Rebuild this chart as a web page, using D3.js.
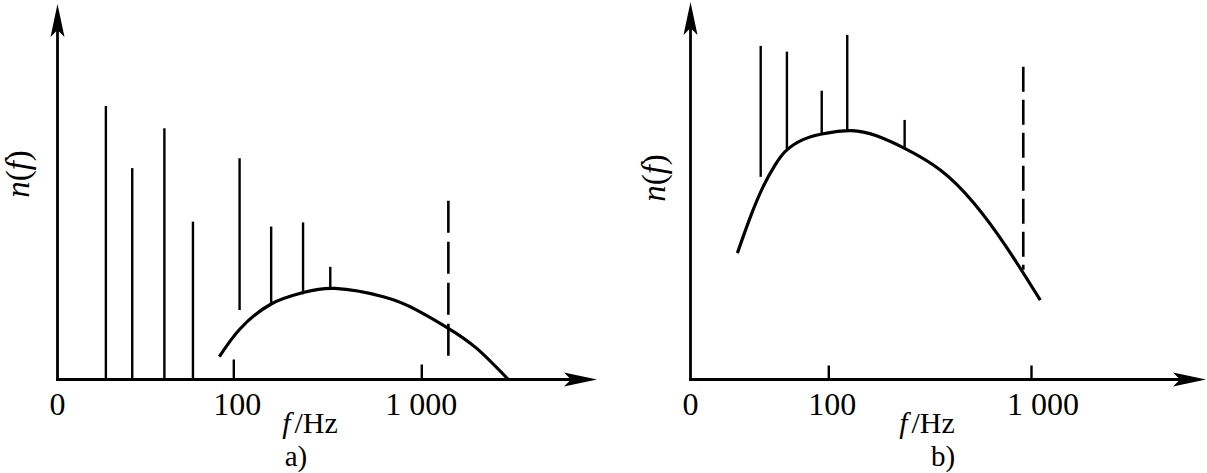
<!DOCTYPE html>
<html>
<head>
<meta charset="utf-8">
<script src="https://cdn.jsdelivr.net/npm/d3@7"></script>
<style>
  html, body { margin: 0; padding: 0; background: #fff; }
  svg { display: block; }
  text { font-family: "Liberation Serif", "Times New Roman", serif; fill: #000; }
</style>
</head>
<body>
<svg id="chart" width="1207" height="473"></svg>
<script>
// ---------- data ----------
// Panel a) : spectral lines (frequency in Hz, top value, base value)
const aLineFreq = [21, 29, 43, 61, 108, 159, 235, 328];
const aLineTop  = [72.1, 55.7, 66.2, 41.6, 58.3, 40.3, 41.4, 29.7];
const aLineBase = [0, 0, 0, 0, 18.3, 19.9, 22.9, 24.0];
const aDashFreq = [1393];
const aDashTop  = [47.1];
const aDashBase = [4.3];
// Panel a) : continuous spectrum curve
const aCurveFreq = [84.3, 108.5, 159, 235, 347, 628, 946, 1393, 1972, 2904];
const aCurveVal  = [6.0, 13.3, 19.9, 22.9, 24.0, 21.8, 18.3, 13.5, 8.2, 0];

// Panel b)
const bLineFreq = [46.4, 62.5, 92.8, 124, 238];
const bLineTop  = [87.9, 86.4, 76.1, 90.8, 68.4];
const bLineBase = [53.4, 60.5, 64.7, 65.6, 60.9];
const bDashFreq = [916];
const bDashTop  = [82.4];
const bDashBase = [28.9];
const bCurveFreq = [35.6, 41.1, 47.6, 54.6, 62.5, 75.0, 92.8, 130.5, 173, 238, 357, 522, 761, 1111];
const bCurveVal  = [33.3, 42.6, 50.7, 56.5, 60.5, 63.2, 64.7, 65.6, 64.2, 60.9, 55.2, 46.5, 34.7, 20.9];

// Axis ticks and labels
const tickValues = [100, 1000];
const tickLabels = ["100", "1 000"];
const originLabel = "0";
const panelNames = ["a)", "b)"];

// ---------- layout ----------
const svg = d3.select("#chart");
const axisY = 379.5;
const FS = 32;
const y = d3.scaleLinear().domain([0, 100]).range([axisY, 0]);

const panels = [
  {
    name: panelNames[0],
    x: d3.scaleLog().domain([100, 1000]).range([233.3, 421.3]),
    ox: 57.5, yTip: 4, xTip: 597,
    lineFreq: aLineFreq, lineTop: aLineTop, lineBase: aLineBase,
    dashFreq: aDashFreq, dashTop: aDashTop, dashBase: aDashBase, dash: "32,9",
    curveFreq: aCurveFreq, curveVal: aCurveVal,
    tickLen: [20, 15], labelDx: [4, 0],
    fhzX: 310, nameX: 296, ylabX: 17, ylabY: 174
  },
  {
    name: panelNames[1],
    x: d3.scaleLog().domain([100, 1000]).range([828.3, 1031]),
    ox: 690.5, yTip: 2, xTip: 1206,
    lineFreq: bLineFreq, lineTop: bLineTop, lineBase: bLineBase,
    dashFreq: bDashFreq, dashTop: bDashTop, dashBase: bDashBase, dash: "25,8",
    curveFreq: bCurveFreq, curveVal: bCurveVal,
    tickLen: [14, 14], labelDx: [4, 12],
    fhzX: 927, nameX: 943, ylabX: 653, ylabY: 178
  }
];

panels.forEach(p => {
  const g = svg.append("g");

  // axes lines
  g.append("line").attr("x1", p.ox).attr("x2", p.ox)
    .attr("y1", axisY + 1.4).attr("y2", p.yTip + 20)
    .attr("stroke", "#000").attr("stroke-width", 2.8);
  g.append("line").attr("x1", p.ox - 1.4).attr("x2", p.xTip - 20)
    .attr("y1", axisY).attr("y2", axisY)
    .attr("stroke", "#000").attr("stroke-width", 2.8);

  // arrowheads
  const L = 33, W = 7, N = 7;
  g.append("path")
    .attr("d", `M${p.ox},${p.yTip} L${p.ox - W},${p.yTip + L} L${p.ox},${p.yTip + L - N} L${p.ox + W},${p.yTip + L} Z`)
    .attr("fill", "#000");
  g.append("path")
    .attr("d", `M${p.xTip},${axisY} L${p.xTip - L},${axisY - W} L${p.xTip - L + N},${axisY} L${p.xTip - L},${axisY + W} Z`)
    .attr("fill", "#000");

  // ticks via d3 axis (ticks pointing upwards, labels drawn separately)
  const ax = d3.axisBottom(p.x).tickValues(tickValues).tickSizeOuter(0).tickFormat("");
  const axG = g.append("g").attr("transform", `translate(0,${axisY})`).call(ax);
  axG.select(".domain").remove();
  axG.selectAll(".tick line")
    .attr("y2", (d, i) => -p.tickLen[i])
    .attr("stroke", "#000").attr("stroke-width", 2.4);

  // tick labels
  g.selectAll("text.tl").data(tickValues).join("text")
    .attr("class", "tl")
    .attr("x", (d, i) => p.x(d) + p.labelDx[i])
    .attr("y", 415)
    .attr("text-anchor", "middle")
    .attr("font-size", FS)
    .text((d, i) => tickLabels[i]);
  g.append("text").attr("x", p.ox).attr("y", 415)
    .attr("text-anchor", "middle").attr("font-size", FS).text(originLabel);

  // axis title f/Hz
  const t = g.append("text").attr("x", p.fhzX).attr("y", 433)
    .attr("text-anchor", "middle").attr("font-size", 30);
  t.append("tspan").attr("font-style", "italic").text("f");
  t.append("tspan").attr("dx", 4).text("/Hz");

  // panel name
  g.append("text").attr("x", p.nameX).attr("y", 466)
    .attr("text-anchor", "middle").attr("font-size", 29).text(p.name);

  // y label n(f)
  const yl = g.append("text")
    .attr("transform", `translate(${p.ylabX},${p.ylabY}) rotate(-90)`)
    .attr("text-anchor", "middle").attr("dy", "0.35em").attr("font-size", 33);
  yl.append("tspan").attr("font-style", "italic").text("n");
  yl.append("tspan").text("(");
  yl.append("tspan").attr("font-style", "italic").text("f");
  yl.append("tspan").text(")");

  // spectral lines
  g.selectAll("line.spec").data(p.lineFreq).join("line")
    .attr("class", "spec")
    .attr("x1", d => p.x(d)).attr("x2", d => p.x(d))
    .attr("y1", (d, i) => y(p.lineTop[i]))
    .attr("y2", (d, i) => y(p.lineBase[i]))
    .attr("stroke", "#000").attr("stroke-width", 2.4);

  // dashed line
  g.selectAll("line.dash").data(p.dashFreq).join("line")
    .attr("class", "dash")
    .attr("x1", d => p.x(d)).attr("x2", d => p.x(d))
    .attr("y1", (d, i) => y(p.dashTop[i]))
    .attr("y2", (d, i) => y(p.dashBase[i]))
    .attr("stroke", "#000").attr("stroke-width", 2.6)
    .attr("stroke-dasharray", p.dash);

  // curve
  const pts = p.curveFreq.map((f, i) => [f, p.curveVal[i]]);
  const line = d3.line().x(d => p.x(d[0])).y(d => y(d[1])).curve(d3.curveNatural);
  g.append("path").attr("d", line(pts))
    .attr("fill", "none").attr("stroke", "#000").attr("stroke-width", 3.2)
    .attr("stroke-linecap", "butt");
});
</script>
</body>
</html>
